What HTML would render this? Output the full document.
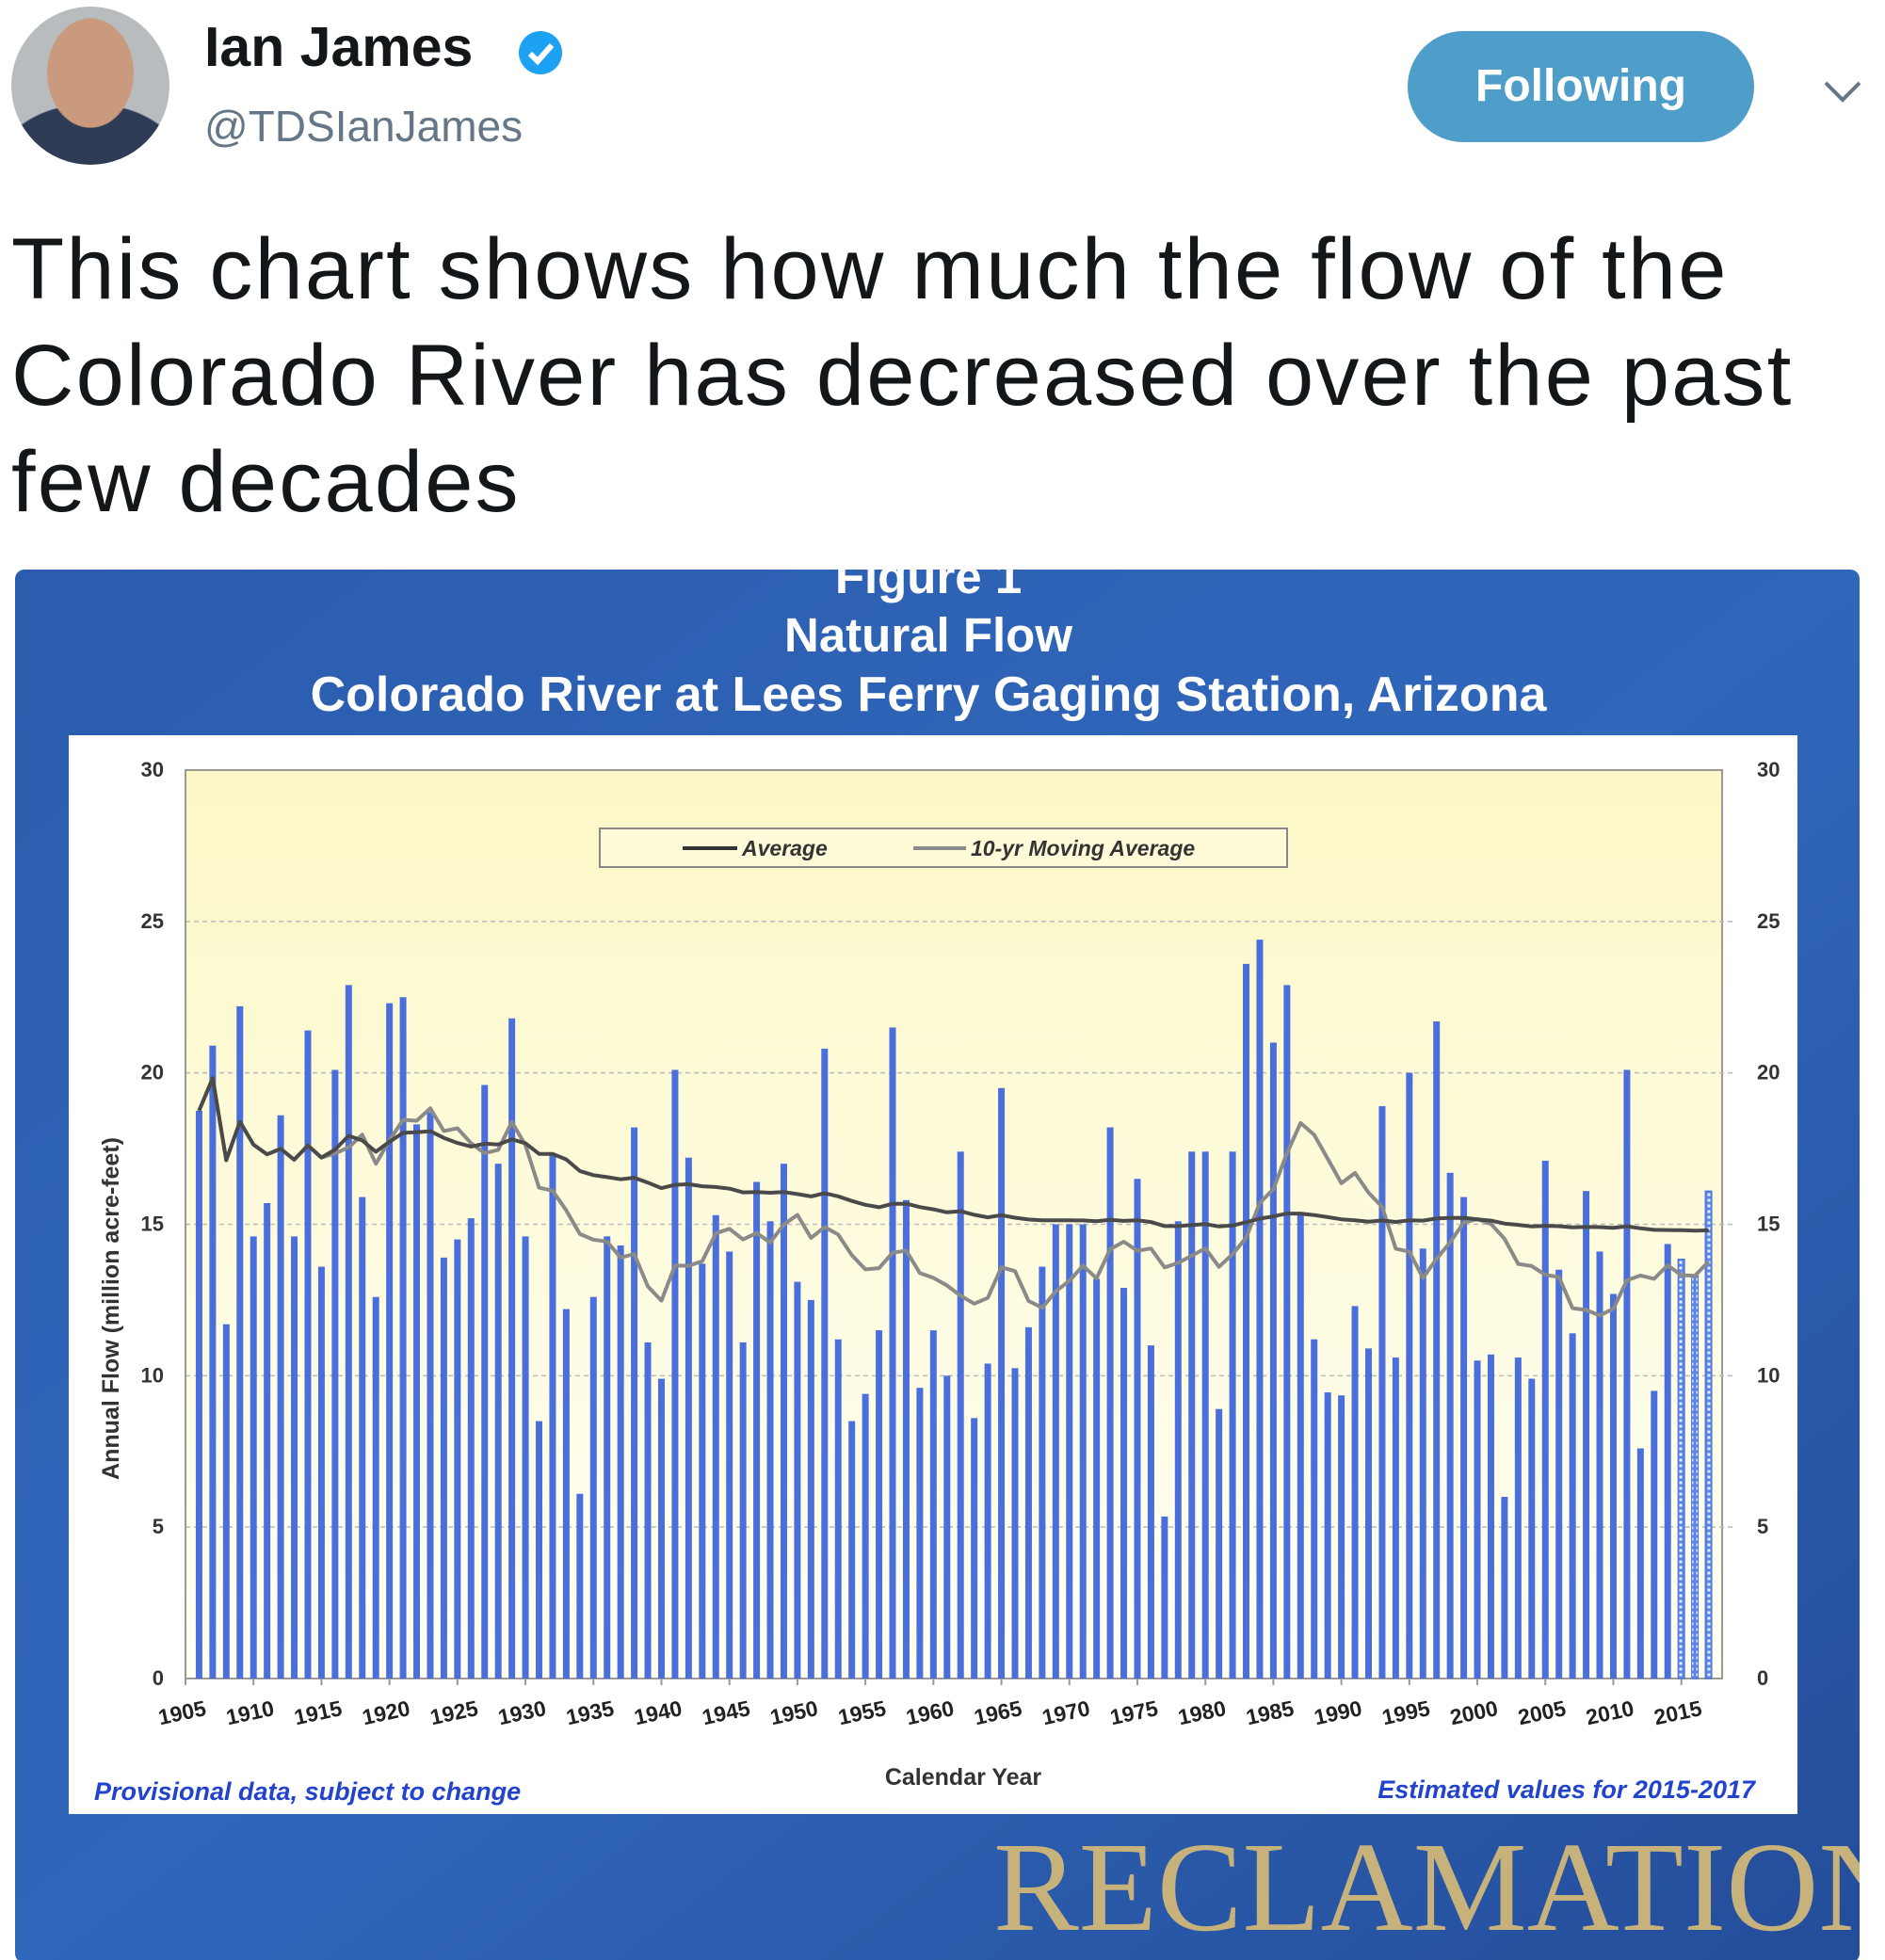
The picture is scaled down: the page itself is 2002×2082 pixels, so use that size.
<!DOCTYPE html>
<html><head><meta charset="utf-8"><style>
html,body{margin:0;padding:0;background:#fff;}
body{width:2002px;height:2082px;position:relative;overflow:hidden;font-family:"Liberation Sans",sans-serif;}
.abs{position:absolute;}
</style></head><body>
<div class="abs" style="left:12px;top:7px;width:168px;height:168px;border-radius:50%;background:radial-gradient(ellipse 30% 38% at 50% 42%,#c99a7e 0 90%,transparent 92%),radial-gradient(ellipse 60% 40% at 50% 100%,#2d3b55 0 95%,transparent 97%),#b9bcbf;"></div>
<div class="abs" style="left:217px;top:16px;font-size:59px;font-weight:bold;color:#14171a;">Ian James</div>
<svg class="abs" style="left:548px;top:30px" width="52" height="52" viewBox="0 0 52 52"><circle cx="26" cy="26" r="23" fill="#1da1f2"/><path d="M15 27 L23 35 L38 18" stroke="#fff" stroke-width="6" fill="none"/></svg>
<div class="abs" style="left:217px;top:107px;font-size:46px;color:#657786;">@TDSIanJames</div>
<div class="abs" style="left:1495px;top:33px;width:368px;height:118px;border-radius:59px;background:#4f9dc9;color:#fff;font-size:48px;font-weight:bold;text-align:center;line-height:118px;">Following</div>
<svg class="abs" style="left:1935px;top:82px" width="44" height="30"><path d="M4 6 L22 24 L40 6" stroke="#657786" stroke-width="4" fill="none"/></svg>
<div class="abs" style="left:12px;top:230px;font-size:92px;letter-spacing:2.2px;line-height:113px;color:#14171a;width:1990px;">This chart shows how much the flow of the<br>Colorado River has decreased over the past<br>few decades</div>

<svg class="abs" style="left:0;top:0" width="2002" height="2082">
<defs>
<linearGradient id="bgG" x1="0" y1="0" x2="1" y2="1"><stop offset="0" stop-color="#2b5cae"/><stop offset="0.5" stop-color="#3067bb"/><stop offset="1" stop-color="#244d9a"/></linearGradient>
<linearGradient id="plotG" x1="0" y1="0" x2="0" y2="1"><stop offset="0" stop-color="#fcf7c6"/><stop offset="1" stop-color="#fffff4"/></linearGradient>
<pattern id="dots" width="6" height="6" patternUnits="userSpaceOnUse"><rect width="6" height="6" fill="#5a84e6"/><rect x="1.5" y="1.5" width="3" height="3" fill="#e8eeff"/></pattern>
<clipPath id="imgClip"><rect x="16" y="605" width="1959" height="1480" rx="10"/></clipPath>
</defs>
<g clip-path="url(#imgClip)">
<rect x="16" y="605" width="1959" height="1480" fill="url(#bgG)"/>
<g font-family="Liberation Sans, sans-serif" font-weight="bold" fill="#fff" text-anchor="middle">
<text x="986" y="630" font-size="51">Figure 1</text>
<text x="986" y="692" font-size="51">Natural Flow</text>
<text x="986" y="755" font-size="52">Colorado River at Lees Ferry Gaging Station, Arizona</text>
</g>
<rect x="73" y="781" width="1836" height="1146" fill="#fff"/>
<text x="1055" y="2050" font-family="Liberation Serif, serif" font-size="136" fill="#c7b27c">RECLAMATION</text>
</g>
<g id="chart"></g>
</svg>
<script>
const years=[];for(let y=1906;y<=2017;y++)years.push(y);
const flows=[18.75,20.9,11.7,22.2,14.6,15.7,18.6,14.6,21.4,13.6,20.1,22.9,15.9,12.6,22.3,22.5,18.3,18.7,13.9,14.5,15.2,19.6,17.0,21.8,14.6,8.5,17.3,12.2,6.1,12.6,14.6,14.3,18.2,11.1,9.9,20.1,17.2,13.7,15.3,14.1,11.1,16.4,15.1,17.0,13.1,12.5,20.8,11.2,8.5,9.4,11.5,21.5,15.8,9.6,11.5,10.0,17.4,8.6,10.4,19.5,10.25,11.6,13.6,15.0,15.0,15.0,13.2,18.2,12.9,16.5,11.0,5.35,15.1,17.4,17.4,8.9,17.4,23.6,24.4,21.0,22.9,15.35,11.2,9.45,9.35,12.3,10.9,18.9,10.6,20.0,14.2,21.7,16.7,15.9,10.5,10.7,6.0,10.6,9.9,17.1,13.5,11.4,16.1,14.1,12.7,20.1,7.6,9.5,14.35,13.85,13.3,16.1];
const estimatedYears=[2015,2016,2017];
const yTicks=[0,5,10,15,20,25,30];
const xTicks=[1905,1910,1915,1920,1925,1930,1935,1940,1945,1950,1955,1960,1965,1970,1975,1980,1985,1990,1995,2000,2005,2010,2015];
const NS='http://www.w3.org/2000/svg';
const X0=197,X1=1829,Y0=1783,Y1=818;
const xs=y=>X0+(y-1905)*(X1-X0)/113;
const ys=v=>Y0-v*(Y0-Y1)/30;
const g=document.getElementById('chart');
function mk(t,a,p){const e=document.createElementNS(NS,t);for(const k in a)e.setAttribute(k,a[k]);(p||g).appendChild(e);return e;}
const pa=mk('rect',{x:X0,y:Y1,width:X1-X0,height:Y0-Y1,fill:'url(#plotG)',stroke:'#999','stroke-width':2});


yTicks.forEach(t=>{
 if(t>0&&t<30){const l=mk('line',{x1:X0,x2:X1+15,y1:ys(t),y2:ys(t),stroke:'#bbb','stroke-width':1.5,'stroke-dasharray':'5,4'});
 
 }
 const a=mk('text',{x:174,y:ys(t)+7,'font-size':22,'font-weight':'bold','text-anchor':'end',fill:'#333','font-family':'Liberation Sans, sans-serif'});a.textContent=t;
 
 
 const b=mk('text',{x:1866,y:ys(t)+7,'font-size':22,'font-weight':'bold',fill:'#333','font-family':'Liberation Sans, sans-serif'});b.textContent=t;
 
 
});
mk('line',{x1:X0,x2:X0,y1:Y1,y2:Y0,stroke:'#999','stroke-width':2});
mk('line',{x1:X0,x2:X1,y1:Y0,y2:Y0,stroke:'#999','stroke-width':2});
xTicks.forEach(t=>{
 mk('line',{x1:xs(t),x2:xs(t),y1:Y0,y2:Y0+7,stroke:'#999','stroke-width':2});
 const x=xs(t)-2,y=Y0+44;
 const a=mk('text',{x:x,y:y,'font-size':23,'font-weight':'bold','text-anchor':'middle',fill:'#222',transform:`rotate(-12 ${x} ${y})`,'font-family':'Liberation Sans, sans-serif'});a.textContent=t;
 
 
});
years.forEach((yr,i)=>{
 const est=estimatedYears.includes(yr);
 const r=mk('rect',{x:xs(yr)-3.5,y:ys(flows[i]),width:7,height:Y0-ys(flows[i]),fill:est?'url(#dots)':'#4a6fdc',stroke:est?'#4a6fdc':'none','stroke-width':1});
 
 
});
const avg=[],mov=[];let s=0;
flows.forEach((v,i)=>{s+=v;avg.push(s/(i+1));const st=Math.max(0,i-9);let m=0;for(let k=st;k<=i;k++)m+=flows[k];mov.push(m/(i-st+1));});
const pts=a=>a.map((v,i)=>xs(years[i]).toFixed(1)+','+ys(v).toFixed(1)).join(' ');
const l2=mk('polyline',{points:pts(mov),fill:'none',stroke:'#8a8a88','stroke-width':4,'stroke-linejoin':'round'});


const l1=mk('polyline',{points:pts(avg),fill:'none',stroke:'#4a4a4a','stroke-width':4,'stroke-linejoin':'round'});


const lg=mk('g',{});


mk('rect',{x:637,y:880,width:730,height:41,fill:'#fffbd8',stroke:'#888','stroke-width':2},lg);
mk('line',{x1:725,x2:783,y1:901,y2:901,stroke:'#333','stroke-width':4},lg);
const t1=mk('text',{x:788,y:909,'font-size':23,'font-weight':'bold','font-style':'italic',fill:'#333','font-family':'Liberation Sans, sans-serif'},lg);t1.textContent='Average';


mk('line',{x1:970,x2:1026,y1:901,y2:901,stroke:'#8a8a88','stroke-width':4},lg);
const t2=mk('text',{x:1031,y:909,'font-size':23,'font-weight':'bold','font-style':'italic',fill:'#333','font-family':'Liberation Sans, sans-serif'},lg);t2.textContent='10-yr Moving Average';


const yt=mk('text',{x:126,y:1390,'font-size':25,'font-weight':'bold',fill:'#333','text-anchor':'middle',transform:'rotate(-90 126 1390)','font-family':'Liberation Sans, sans-serif'});yt.textContent='Annual Flow (million acre-feet)';


const xt=mk('text',{x:1023,y:1896,'font-size':25,'font-weight':'bold',fill:'#333','text-anchor':'middle','font-family':'Liberation Sans, sans-serif'});xt.textContent='Calendar Year';


const n1=mk('text',{x:100,y:1912,'font-size':27,'font-weight':'bold','font-style':'italic',fill:'#2244cc','font-family':'Liberation Sans, sans-serif'});n1.textContent='Provisional data, subject to change';


const n2=mk('text',{x:1864,y:1910,'font-size':27,'font-weight':'bold','font-style':'italic',fill:'#2244cc','text-anchor':'end','font-family':'Liberation Sans, sans-serif'});n2.textContent='Estimated values for 2015-2017';


</script>
</body></html>
